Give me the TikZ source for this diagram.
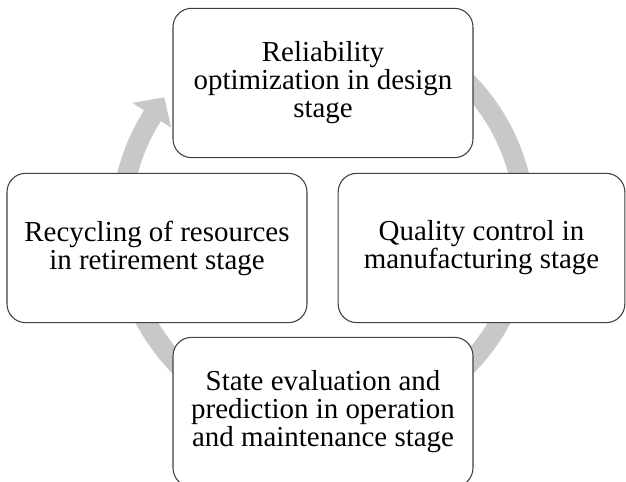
\documentclass[tikz,border=0pt]{standalone}
\usepackage{fontspec}
\setmainfont{Liberation Serif}

\definecolor{ringgray}{RGB}{200,200,200}
\definecolor{boxline}{RGB}{64,64,64}

\begin{document}
\begin{tikzpicture}[line cap=round, line join=round, x=0.75pt, y=0.75pt,
    stagebox/.style={draw=boxline, line width=0.8pt, fill=white, rounded corners=14pt,
      minimum width=225pt, minimum height=112pt, inner sep=0pt, align=center,
      font=\fontsize{21.7}{21}\selectfont},
    cyclering/.style={draw=ringgray, line width=15pt, line cap=butt}]
                \useasboundingbox (0,0) rectangle (626,482);
                \coordinate (ctr) at (323,258);
                % the grey cycle arrow lies behind the four stages
                \draw[cyclering] ([shift={(120:202)}]ctr) arc[start angle=120, end angle=-212.4, radius=151.5pt];
                \fill[ringgray] ([shift={(147.6:226)}]ctr) -- ([shift={(141.4:203)}]ctr) -- ([shift={(147.6:180)}]ctr) -- cycle;
                \node[stagebox] (design) at (323,399) {Reliability\\optimization in design\\stage};
                \node[stagebox] (retire) at (157,234) {Recycling of resources\\in retirement stage};
                \node[stagebox, minimum width=215pt] (manuf) at (481.5,234) {Quality control in\\manufacturing stage};
                \node[stagebox] (operate) at (323,70) {State evaluation and\\prediction in operation\\and maintenance stage};
            \end{tikzpicture}
\end{document}
